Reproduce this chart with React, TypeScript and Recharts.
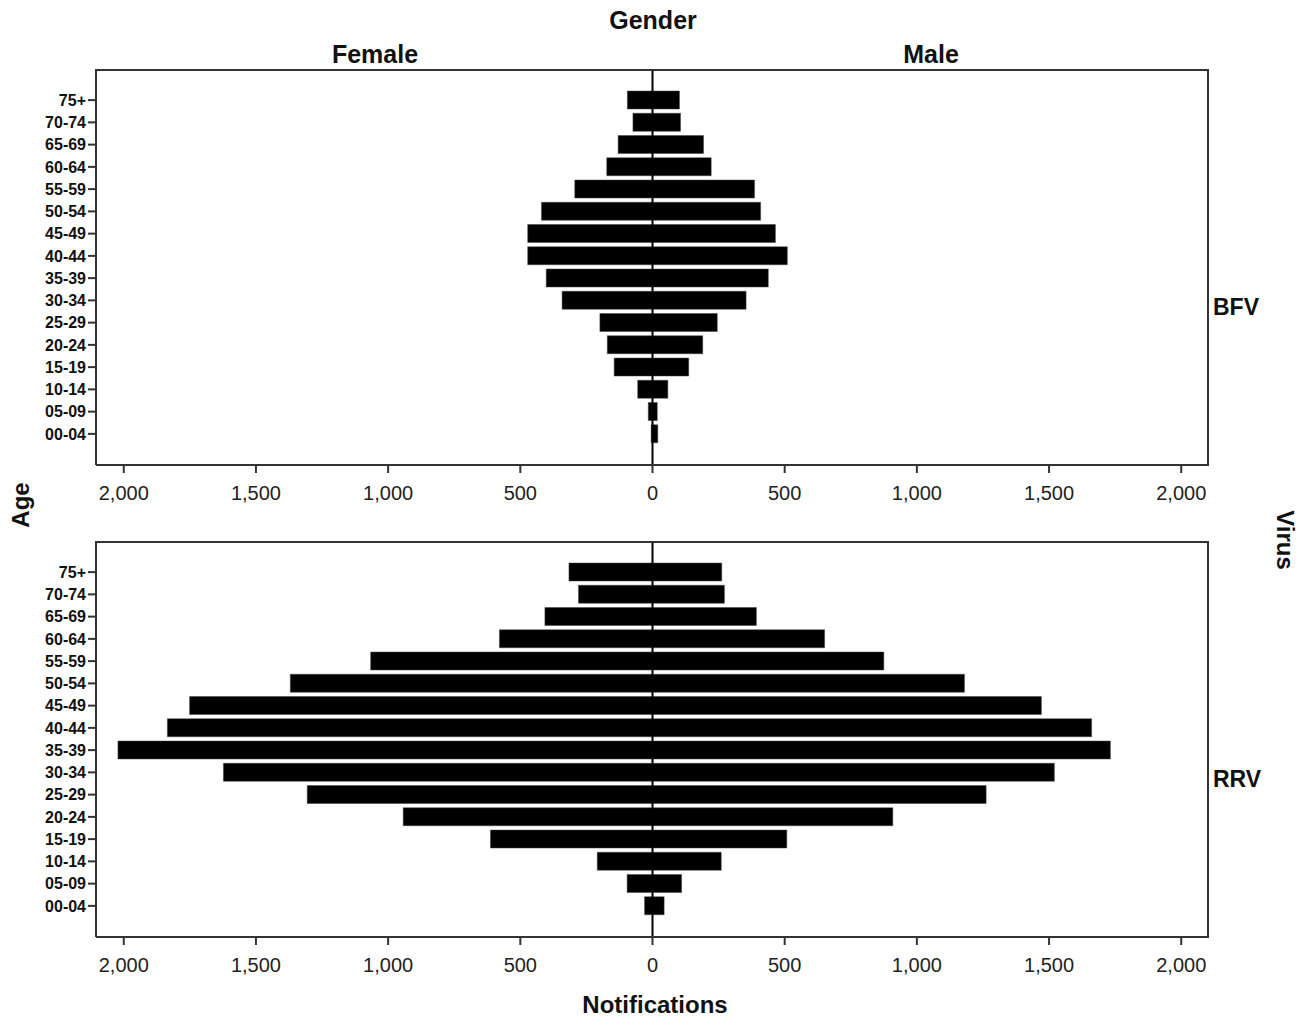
import {
  BarChart,
  Bar,
  XAxis,
  YAxis,
  ReferenceLine,
} from "recharts";

const ageGroups = [
  "00-04", "05-09", "10-14", "15-19", "20-24", "25-29", "30-34", "35-39",
  "40-44", "45-49", "50-54", "55-59", "60-64", "65-69", "70-74", "75+",
];

const bfvFemale = [5, 16, 56, 145, 171, 199, 342, 402, 472, 472, 420, 294, 173, 130, 74, 95];
const bfvMale = [20, 18, 58, 137, 190, 245, 354, 438, 510, 465, 409, 386, 222, 193, 106, 102];

const rrvFemale = [30, 96, 209, 613, 943, 1306, 1623, 2022, 1835, 1751, 1370, 1066, 579, 407, 280, 316];
const rrvMale = [44, 110, 260, 508, 909, 1262, 1520, 1732, 1661, 1471, 1180, 875, 651, 393, 272, 262];

const xTicks = [-2000, -1500, -1000, -500, 0, 500, 1000, 1500, 2000];

const FONT = '"Liberation Sans", Arial, sans-serif';
const FRAME = "#333";

function buildRows(female: number[], male: number[]) {
  return ageGroups.map((age, i) => ({
    age,
    female: -female[i],
    male: male[i],
  }));
}

const fmt = (v: number) => Math.abs(v).toLocaleString("en-US");

interface PanelProps {
  rows: Array<{ age: string; female: number; male: number }>;
  top: number;
  height: number;
  marginTop: number;
  axisHeight: number;
}

function Panel({ rows, top, height, marginTop, axisHeight }: PanelProps) {
  const plotH = height - marginTop - axisHeight;
  return (
    <div style={{ position: "absolute", left: 0, top, width: 1304, height }}>
      <BarChart
        width={1304}
        height={height}
        data={rows}
        layout="vertical"
        stackOffset="sign"
        barSize={18}
        margin={{ top: marginTop, right: 95, bottom: 0, left: 0 }}
      >
        <XAxis
          type="number"
          domain={[-2105, 2105]}
          ticks={xTicks}
          tickFormatter={fmt}
          height={axisHeight}
          tickSize={8}
          tickMargin={13}
          axisLine={{ stroke: FRAME, strokeWidth: 2 }}
          tickLine={{ stroke: FRAME, strokeWidth: 2 }}
          tick={{ fill: "#222", fontSize: 20, fontFamily: FONT }}
          allowDataOverflow
        />
        <YAxis
          type="category"
          dataKey="age"
          reversed
          width={96}
          padding={{ top: 20, bottom: 20 }}
          tickSize={8}
          tickMargin={2}
          axisLine={{ stroke: FRAME, strokeWidth: 2 }}
          tickLine={{ stroke: FRAME, strokeWidth: 2 }}
          tick={{ fill: "#111", fontSize: 16, fontWeight: 700, fontFamily: FONT }}
          interval={0}
        />
        <Bar dataKey="female" stackId="g" fill="#000" stroke="#444" strokeWidth={0.5} isAnimationActive={false} />
        <Bar dataKey="male" stackId="g" fill="#000" stroke="#444" strokeWidth={0.5} isAnimationActive={false} />
        <ReferenceLine x={0} stroke="#000" strokeWidth={2} />
      </BarChart>
      {/* top and right edges of the frame */}
      <div
        style={{
          position: "absolute",
          left: 96,
          top: marginTop,
          width: 1113,
          height: plotH,
          borderTop: `2px solid ${FRAME}`,
          borderRight: `2px solid ${FRAME}`,
          boxSizing: "border-box",
          pointerEvents: "none",
        }}
      />
    </div>
  );
}

export default function App() {
  const bfvRows = buildRows(bfvFemale, bfvMale);
  const rrvRows = buildRows(rrvFemale, rrvMale);
  const title = { fontFamily: FONT, fontWeight: 700, fill: "#111" } as const;

  return (
    <div
      style={{
        position: "absolute",
        left: 0,
        top: 0,
        width: 1304,
        height: 1018,
        background: "#fff",
        overflow: "hidden",
      }}
    >
      <Panel rows={bfvRows} top={0} height={510} marginTop={69} axisHeight={45} />
      <Panel rows={rrvRows} top={510} height={470} marginTop={31} axisHeight={43} />
      <svg
        width={1304}
        height={1018}
        style={{ position: "absolute", left: 0, top: 0, pointerEvents: "none" }}
      >
        <text x={653} y={29} textAnchor="middle" fontSize={25} {...title}>Gender</text>
        <text x={375} y={63} textAnchor="middle" fontSize={25} {...title}>Female</text>
        <text x={931} y={63} textAnchor="middle" fontSize={25} {...title}>Male</text>
        <text x={1213} y={315} fontSize={23} {...title}>BFV</text>
        <text x={1213} y={787} fontSize={23} {...title}>RRV</text>
        <text
          x={0}
          y={0}
          textAnchor="middle"
          fontSize={24}
          transform="translate(29 505) rotate(-90)"
          {...title}
        >
          Age
        </text>
        <text
          x={0}
          y={0}
          textAnchor="middle"
          fontSize={24}
          transform="translate(1277 540) rotate(90)"
          {...title}
        >
          Virus
        </text>
        <text x={655} y={1013} textAnchor="middle" fontSize={24} {...title}>Notifications</text>
      </svg>
    </div>
  );
}
